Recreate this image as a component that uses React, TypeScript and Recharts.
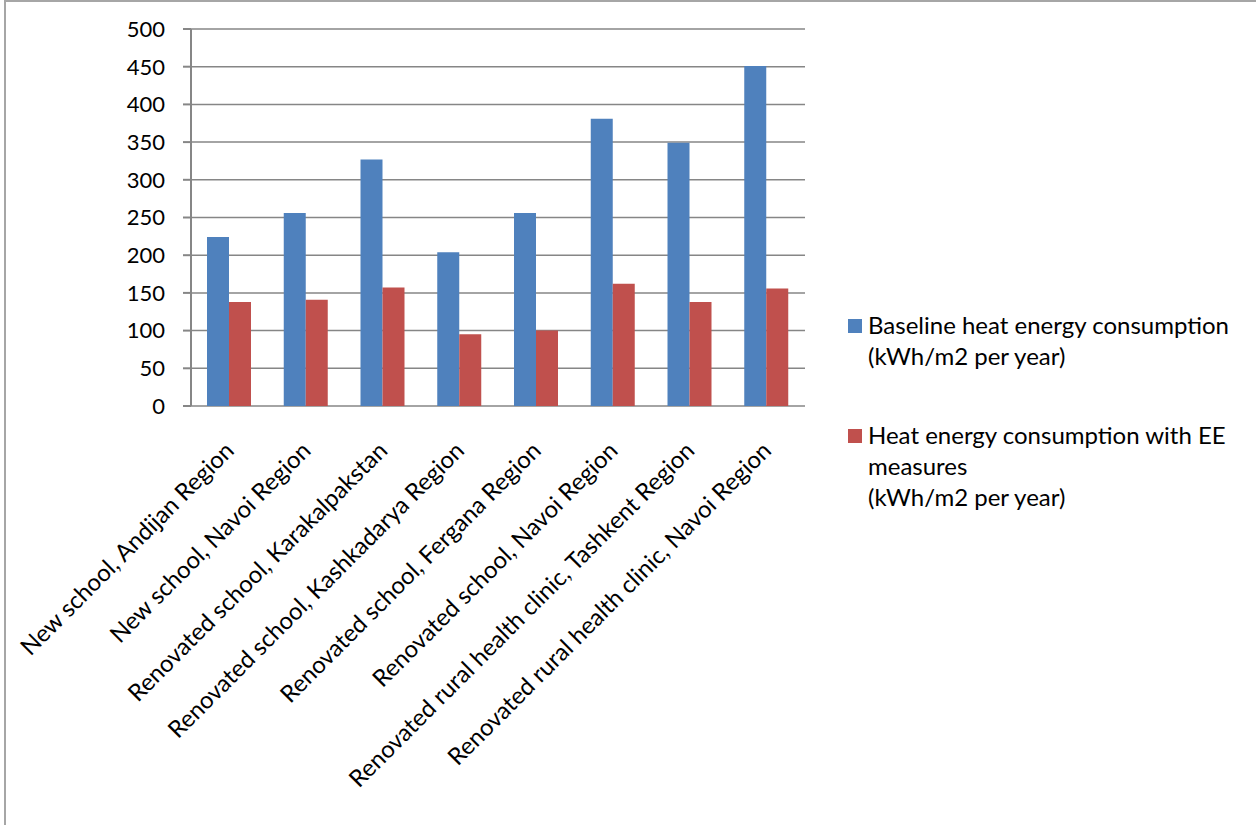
import type { CSSProperties } from "react"
import { BarChart, Bar, XAxis, YAxis, CartesianGrid, Legend } from "recharts"

const categories = [
	"New school, Andijan Region",
	"New school, Navoi Region",
	"Renovated school, Karakalpakstan",
	"Renovated school, Kashkadarya Region",
	"Renovated school, Fergana Region",
	"Renovated school, Navoi Region",
	"Renovated rural health clinic, Tashkent Region",
	"Renovated rural health clinic, Navoi Region",
]
const baseline = [224, 256, 327, 204, 256, 381, 349, 451]
const withEE = [138, 141, 157, 95, 100, 162, 138, 156]
const yTicks = [0, 50, 100, 150, 200, 250, 300, 350, 400, 450, 500]
const edgeTicks = [0, 1, 2, 3, 4, 5, 6, 7, 8]
const baselineLegend = ["Baseline heat energy consumption", "(kWh/m2 per year)"]
const withEELegend = ["Heat energy consumption with EE", "measures", "(kWh/m2 per year)"]

const BLUE = "#4F81BD"
const RED = "#C0504D"
const AXIS = "#868686"
const FONT = "Lato, 'Open Sans', sans-serif"

const data = categories.map((name, i) => ({
	name,
	baseline: baseline[i],
	withEE: withEE[i],
}))

const PAGE: CSSProperties = {
	position: "absolute",
	left: 0,
	top: 0,
	width: 1256,
	height: 825,
	background: "#fff",
	fontFamily: FONT,
	overflow: "hidden",
}
const FRAME: CSSProperties = {
	position: "absolute",
	left: 4,
	top: 0,
	width: 1300,
	height: 900,
	borderTop: "2px solid #a6a6a6",
	borderLeft: "2px solid #a6a6a6",
}

function CategoryTick({ x, y, payload }: { x?: number; y?: number; payload?: { value: string } }) {
	return (
		<g transform={`translate(${(x ?? 0) + 6},${(y ?? 0) + 46}) rotate(-45)`}>
			<text textAnchor="end" fill="#000" fontSize={23.8} fontFamily={FONT}>
				{payload?.value}
			</text>
		</g>
	)
}

function LegendItem({ color, lines }: { color: string; lines: string[] }) {
	return (
		<div style={{ display: "flex", alignItems: "flex-start" }}>
			<div style={{ width: 14, height: 14, background: color, marginTop: 10, marginRight: 6 }} />
			<div>
				{lines.map((l) => (
					<div key={l} style={{ lineHeight: "31px", whiteSpace: "nowrap" }}>
						{l}
					</div>
				))}
			</div>
		</div>
	)
}

function LegendContent() {
	return (
		<div style={{ fontFamily: FONT, fontSize: 24, color: "#000" }}>
			<LegendItem color={BLUE} lines={baselineLegend} />
			<div style={{ height: 48 }} />
			<LegendItem color={RED} lines={withEELegend} />
		</div>
	)
}

export default function App() {
	return (
		<div style={PAGE}>
			<div style={FRAME} />
			<BarChart
				width={1256}
				height={825}
				data={data}
				margin={{ top: 29, right: 451, bottom: 0, left: 0 }}
				barGap={0}
				barSize={22}
			>
				<CartesianGrid stroke={AXIS} strokeWidth={1.5} vertical={false} />
				<XAxis
					xAxisId="edges"
					type="number"
					domain={[0, 8]}
					ticks={edgeTicks}
					allowDataOverflow
					height={0}
					tick={false}
					tickSize={8}
					stroke={AXIS}
					axisLine={{ stroke: AXIS, strokeWidth: 2 }}
					tickLine={{ stroke: AXIS, strokeWidth: 2 }}
				/>
				<XAxis
					dataKey="name"
					interval={0}
					height={419}
					tickSize={0}
					tickMargin={0}
					axisLine={false}
					tickLine={false}
					tick={<CategoryTick />}
				/>
				<YAxis
					domain={[0, 500]}
					ticks={yTicks}
					interval={0}
					width={191}
					tickSize={8}
					tickMargin={18}
					axisLine={{ stroke: AXIS, strokeWidth: 2 }}
					tickLine={{ stroke: AXIS, strokeWidth: 2 }}
					tick={{ fill: "#000", fontSize: 22, fontFamily: FONT }}
				/>
				<Legend
					layout="horizontal"
					verticalAlign="middle"
					align="center"
					wrapperStyle={{ left: 848, top: 309, width: 400 }}
					content={<LegendContent />}
				/>
				<Bar dataKey="baseline" fill={BLUE} isAnimationActive={false} />
				<Bar dataKey="withEE" fill={RED} isAnimationActive={false} />
			</BarChart>
		</div>
	)
}
